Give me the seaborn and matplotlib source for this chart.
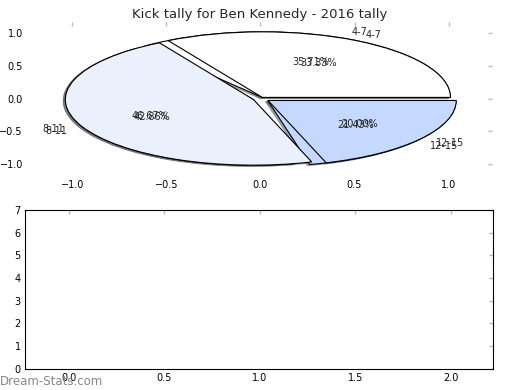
import numpy as np
import seaborn as sns
import matplotlib.pyplot as plt

# kick tally by kick range, two tallies overlaid
labels = ["4-7", "8-11", "12-15"]
tally_a = [5, 6, 3]
tally_b = [5, 7, 3]
colors = ["#ffffff", "#eaf1fd", "#c5d8fd"]

sns.set_style("white")
plt.rcParams['font.family'] = ['DejaVu Sans']
plt.rcParams['xtick.direction'] = 'in'
plt.rcParams['ytick.direction'] = 'in'

fig = plt.figure(figsize=(5.2, 3.9), dpi=100)
ax1 = fig.add_axes([0.052, 0.549, 0.894, 0.395])
ax2 = fig.add_axes([0.048, 0.054, 0.900, 0.408])

wp = dict(edgecolor="black", linewidth=0.8)
shad = dict(ox=-0.008, oy=-0.012, shade=0.6)
for tally in (tally_a, tally_b):
    ax1.pie(tally, labels=labels, colors=colors, autopct="%.2f%%",
            explode=(0.02, 0.04, 0.05), shadow=shad, frame=True,
            wedgeprops=wp, textprops=dict(fontsize=7))
ax1.set_aspect("auto")
ax1.set_xlim(-1.24, 1.23)
ax1.set_ylim(-1.18, 1.17)
ax1.set_xticks([-1.0, -0.5, 0.0, 0.5, 1.0])
ax1.set_yticks([-1.0, -0.5, 0.0, 0.5, 1.0])
for s in ax1.spines.values():
    s.set_visible(False)
ax1.set_title("Kick tally for Ben Kennedy - 2016 tally", fontsize=9.5, pad=3)

ax2.set_xlim(-0.23, 2.22)
ax2.set_ylim(0, 7)
ax2.set_xticks([0.0, 0.5, 1.0, 1.5, 2.0])
ax2.set_yticks(range(8))
for s in ax2.spines.values():
    s.set_color("black")
    s.set_linewidth(0.8)

for ax in (ax1, ax2):
    ax.tick_params(axis="both", which="both", length=3, width=1, color="#bbbbbb",
                   labelsize=7, top=True, right=True, labelcolor="black", pad=3)

fig.text(0.0, 0.012, "Dream-Stats.com", color="#888888", fontsize=8.5)

fig.savefig("out.png", dpi=100)
